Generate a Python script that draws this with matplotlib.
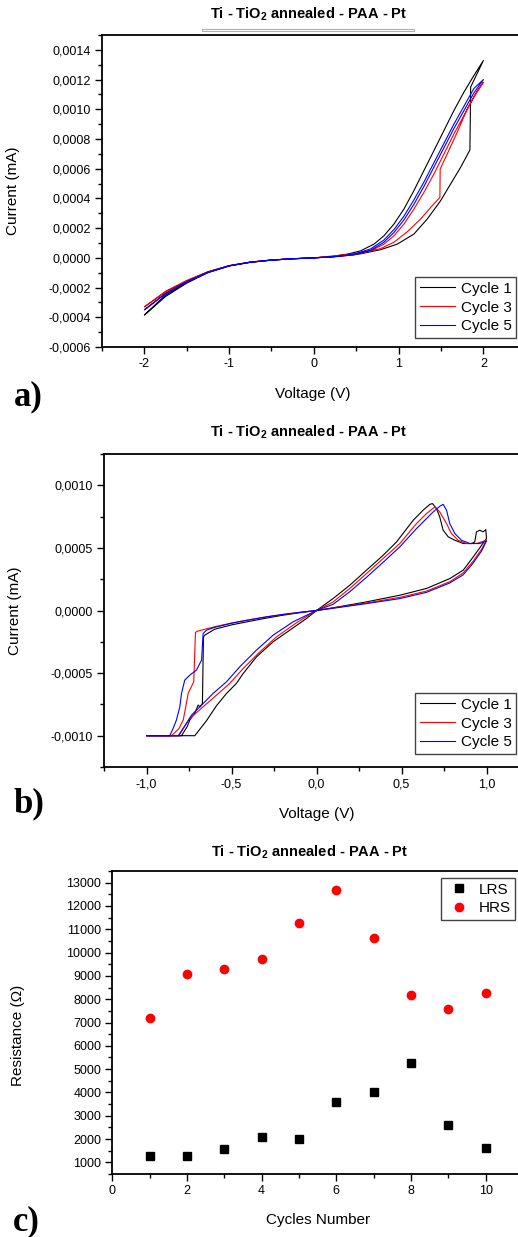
import matplotlib

matplotlib.use("Agg")
import matplotlib.pyplot as plt
from matplotlib.patches import Rectangle
from matplotlib.ticker import FuncFormatter, MultipleLocator

plt.rcParams["font.family"] = ["Liberation Sans", "DejaVu Sans"]
plt.rcParams["mathtext.default"] = "regular"
plt.rcParams["axes.unicode_minus"] = False

W, H = 518, 1237
TITLE = "Ti - TiO$_2$ annealed - PAA - Pt"
CYCLES = ["Cycle 1", "Cycle 3", "Cycle 5"]
COLORS = ["black", "red", "blue"]

# panel a: I-V loops, current in units of 1e-4 mA
va_c1 = [0, -0.25, -0.5, -0.75, -1.0, -1.25, -1.5, -1.75, -2.0,
         -1.75, -1.5, -1.25, -1.0, -0.75, -0.5, -0.25, 0,
         0.315, 0.551, 0.787, 0.983, 1.18, 1.337, 1.495, 1.613, 1.731, 1.841, 1.85, 2.0,
         1.888, 1.77, 1.652, 1.534, 1.416, 1.298, 1.18, 1.062, 0.944, 0.826, 0.708,
         0.551, 0.393, 0.2, 0]
ia_c1 = [0, -0.06, -0.15, -0.3, -0.55, -1.0, -1.7, -2.6, -3.85,
         -2.5, -1.62, -0.96, -0.53, -0.29, -0.15, -0.06, 0,
         0.13, 0.27, 0.55, 0.92, 1.6, 2.61, 3.84, 4.97, 6.09, 7.26, 11.5, 13.28,
         12.27, 11.15, 9.91, 8.56, 7.21, 5.87, 4.52, 3.28, 2.27, 1.48, 0.92,
         0.47, 0.25, 0.08, 0]
va_c3 = [0, -0.25, -0.5, -0.75, -1.0, -1.25, -1.5, -1.75, -2.0,
         -1.75, -1.5, -1.25, -1.0, -0.75, -0.5, -0.25, 0,
         0.315, 0.551, 0.787, 0.944, 1.101, 1.259, 1.377, 1.487, 1.49, 1.573, 1.691,
         1.809, 1.927, 2.0,
         1.888, 1.77, 1.652, 1.534, 1.416, 1.298, 1.18, 1.062, 0.944, 0.826, 0.669,
         0.472, 0.236, 0]
ia_c3 = [0, -0.06, -0.15, -0.29, -0.53, -0.95, -1.55, -2.3, -3.3,
         -2.25, -1.52, -0.93, -0.52, -0.28, -0.14, -0.06, 0,
         0.18, 0.33, 0.62, 1.05, 1.75, 2.61, 3.39, 4.07, 5.98, 6.99, 8.45,
         10.02, 11.26, 11.82,
         10.81, 9.57, 8.34, 6.99, 5.64, 4.4, 3.28, 2.27, 1.48, 0.92, 0.47,
         0.2, 0.07, 0]
va_c5 = [0, -0.25, -0.5, -0.75, -1.0, -1.25, -1.5, -1.75, -2.0,
         -1.75, -1.5, -1.25, -1.0, -0.75, -0.5, -0.25, 0,
         0.236, 0.472, 0.669, 0.826, 0.944, 1.062, 1.18, 1.298, 1.416, 1.534, 1.652,
         1.77, 1.888, 2.0,
         1.888, 1.77, 1.652, 1.534, 1.416, 1.298, 1.18, 1.062, 0.944, 0.826, 0.669,
         0.472, 0.236, 0]
ia_c5 = [0, -0.06, -0.15, -0.3, -0.54, -0.98, -1.62, -2.42, -3.5,
         -2.38, -1.6, -0.97, -0.53, -0.29, -0.15, -0.06, 0,
         0.07, 0.2, 0.5, 1.05, 1.7, 2.55, 3.6, 4.8, 6.1, 7.4, 8.7,
         9.9, 11.1, 12.0,
         11.4, 10.2, 9.0, 7.7, 6.4, 5.1, 3.9, 2.8, 1.9, 1.2, 0.6,
         0.25, 0.08, 0]

# panel b: I-V loops, current in units of 1e-4 mA
vb_c1 = [0, 0.098, 0.196, 0.294, 0.392, 0.471, 0.569, 0.627, 0.667, 0.682, 0.706,
         0.725, 0.745, 0.775, 0.814, 0.863, 0.912, 0.931, 0.941, 0.961, 0.98, 0.996,
         1.0, 0.971, 0.922, 0.863, 0.784, 0.647, 0.49, 0.294, 0.098, 0,
         -0.1, -0.2, -0.3, -0.4, -0.5, -0.6, -0.657, -0.665, -0.671, -0.685, -0.696,
         -0.716, -0.745, -0.761, -0.794, -1.0, -0.716,
         -0.647, -0.588, -0.529, -0.471, -0.431, -0.353, -0.255, -0.157, -0.059, 0]
ib_c1 = [0, 0.96, 2.02, 3.22, 4.41, 5.48, 7.21, 8.01, 8.48, 8.54, 8.14,
         7.47, 6.41, 5.88, 5.61, 5.35, 5.35, 5.48, 6.28, 6.41, 6.28, 6.46,
         5.74, 5.21, 4.28, 3.22, 2.55, 1.76, 1.22, 0.69, 0.22, 0,
         -0.18, -0.38, -0.62, -0.88, -1.15, -1.5, -1.97, -2.1, -7.42, -7.7, -7.55,
         -8.2, -8.75, -9.28, -10, -10, -10,
         -8.8, -7.6, -6.62, -5.82, -5.03, -3.7, -2.5, -1.57, -0.64, 0]
vb_c3 = [0, 0.098, 0.196, 0.294, 0.392, 0.49, 0.588, 0.647, 0.696, 0.725, 0.765,
         0.794, 0.833, 0.882, 0.941, 1.0,
         0.971, 0.922, 0.863, 0.784, 0.647, 0.49, 0.294, 0.098, 0,
         -0.1, -0.2, -0.3, -0.4, -0.5, -0.6, -0.7, -0.712, -0.722, -0.755, -0.769,
         -0.784, -0.808, -0.853, -1.0, -0.814,
         -0.745, -0.667, -0.588, -0.51, -0.431, -0.333, -0.235, -0.118, 0]
ib_c3 = [0, 0.69, 1.76, 2.95, 4.15, 5.35, 6.94, 7.74, 8.27, 7.87, 6.94,
         6.14, 5.61, 5.35, 5.35, 5.61,
         4.9, 3.95, 3.0, 2.3, 1.55, 1.05, 0.6, 0.2, 0,
         -0.15, -0.32, -0.52, -0.75, -1.0, -1.3, -1.65, -1.75, -5.69, -6.62, -7.69,
         -8.75, -9.41, -10, -10, -10,
         -8.62, -7.69, -6.76, -5.82, -4.63, -3.3, -2.1, -0.98, 0]
vb_c5 = [0, 0.098, 0.196, 0.294, 0.392, 0.49, 0.588, 0.686, 0.725, 0.745, 0.765,
         0.784, 0.814, 0.853, 0.902, 0.961, 1.0,
         0.971, 0.922, 0.863, 0.784, 0.647, 0.49, 0.294, 0.098, 0,
         -0.1, -0.2, -0.3, -0.4, -0.5, -0.6, -0.647, -0.667, -0.676, -0.706, -0.745,
         -0.775, -0.794, -0.804, -0.824, -0.843, -0.863, -1.0, -0.81,
         -0.735, -0.686, -0.608, -0.529, -0.451, -0.353, -0.255, -0.137, 0]
ib_c5 = [0, 0.5, 1.5, 2.65, 3.85, 5.08, 6.54, 7.87, 8.32, 8.48, 8.01,
         6.94, 6.14, 5.61, 5.35, 5.35, 5.56,
         4.75, 3.8, 2.85, 2.2, 1.45, 0.95, 0.55, 0.18, 0,
         -0.15, -0.32, -0.52, -0.76, -1.02, -1.35, -1.57, -1.84, -3.96, -4.76, -5.16,
         -5.56, -6.62, -7.69, -8.75, -9.41, -10, -10, -10,
         -8.35, -7.69, -6.62, -5.69, -4.49, -3.16, -1.97, -0.9, 0]

# panel c: resistance per cycle (Ohm)
cycles = [1, 2, 3, 4, 5, 6, 7, 8, 9, 10]
lrs = [1290, 1270, 1570, 2090, 2010, 3570, 4030, 5270, 2610, 1600]
hrs = [7200, 9090, 9290, 9740, 11270, 12700, 10630, 8160, 7590, 8270]


def fx(px):
    return px / W


def fy(py):
    return 1 - py / H


def rect(left, top, right, bottom):
    return [fx(left), fy(bottom), (right - left) / W, (bottom - top) / H]


def comma(decimals):
    def fmt(v, pos):
        s = f"{v:.{decimals}f}".replace(".", ",")
        if s.startswith("-") and float(s[1:].replace(",", ".")) == 0:
            s = s[1:]
        return s
    return FuncFormatter(fmt)


def style_axes(ax):
    for side in ("left", "bottom", "top", "right"):
        ax.spines[side].set_linewidth(1.3)
    ax.tick_params(which="major", direction="out", length=5, width=1, labelsize=9,
                   top=False, right=False, pad=3)
    ax.tick_params(which="minor", direction="out", length=3, width=1,
                   top=False, right=False)


def legend(ax, x, y, loc, **kw):
    leg = ax.legend(loc=loc, bbox_to_anchor=(fx(x), fy(y)), bbox_transform=fig.transFigure,
                    fancybox=False, edgecolor="#444444", framealpha=1, fontsize=11,
                    borderpad=0.3, labelspacing=0.32, handletextpad=0.35,
                    borderaxespad=0, **kw)
    leg.get_frame().set_linewidth(1.0)


fig = plt.figure(figsize=(W / 100, H / 100), dpi=100)

# ---- panel a
ax = fig.add_axes(rect(102, 35, 525.75, 347))
for v, i, c, lab in zip([va_c1, va_c3, va_c5], [ia_c1, ia_c3, ia_c5], COLORS, CYCLES):
    ax.plot(v, [x * 1e-4 for x in i], color=c, lw=0.8, label=lab)
ax.set_xlim(-2.5, 2.5)
ax.set_ylim(-0.0006, 0.0015)
ax.xaxis.set_major_locator(MultipleLocator(1))
ax.xaxis.set_minor_locator(MultipleLocator(0.5))
ax.yaxis.set_major_locator(MultipleLocator(0.0002))
ax.yaxis.set_minor_locator(MultipleLocator(0.0001))
ax.xaxis.set_major_formatter(comma(0))
ax.yaxis.set_major_formatter(comma(4))
style_axes(ax)
ax.set_xlabel("Voltage (V)", fontsize=11)
ax.set_ylabel("Current (mA)", fontsize=11)
ax.xaxis.set_label_coords(0.498, -0.128)
ax.yaxis.set_label_coords(-0.194, 0.5)
legend(ax, 516, 338, "lower right", handlelength=2.3)
fig.text(fx(309), fy(14), TITLE, ha="center", va="center", fontsize=10.5, fontweight="bold")
fig.patches.append(Rectangle((fx(202), fy(31)), fx(212), 2.5 / H, transform=fig.transFigure,
                             facecolor="white", edgecolor="#b0b0b0", lw=0.8))
fig.text(fx(14), fy(405), "a)", fontsize=25, fontweight="bold",
         family=["Liberation Serif", "DejaVu Serif"])

# ---- panel b
ax = fig.add_axes(rect(104, 454, 529, 767))
for v, i, c, lab in zip([vb_c1, vb_c3, vb_c5], [ib_c1, ib_c3, ib_c5], COLORS, CYCLES):
    ax.plot(v, [x * 1e-4 for x in i], color=c, lw=0.8, label=lab)
ax.set_xlim(-1.25, 1.25)
ax.set_ylim(-0.00125, 0.00125)
ax.xaxis.set_major_locator(MultipleLocator(0.5))
ax.xaxis.set_minor_locator(MultipleLocator(0.25))
ax.yaxis.set_major_locator(MultipleLocator(0.0005))
ax.yaxis.set_minor_locator(MultipleLocator(0.00025))
ax.xaxis.set_major_formatter(comma(1))
ax.yaxis.set_major_formatter(comma(4))
style_axes(ax)
ax.set_xlabel("Voltage (V)", fontsize=11)
ax.set_ylabel("Current (mA)", fontsize=11)
ax.xaxis.set_label_coords(0.5, -0.128)
ax.yaxis.set_label_coords(-0.194, 0.5)
legend(ax, 516, 754, "lower right", handlelength=2.3)
fig.text(fx(309), fy(432), "Ti - TiO$_2$ annealed - PAA - Pt", ha="center", va="center",
         fontsize=10.5, fontweight="bold")
fig.text(fx(14), fy(812), "b)", fontsize=25, fontweight="bold",
         family=["Liberation Serif", "DejaVu Serif"])

# ---- panel c
ax = fig.add_axes(rect(112.3, 871, 523, 1174))
ax.plot(cycles, lrs, "s", color="black", ms=5.5, label="LRS")
ax.plot(cycles, hrs, "o", color="red", ms=6, label="HRS")
ax.set_xlim(0, 11)
ax.set_ylim(500, 13500)
ax.xaxis.set_major_locator(MultipleLocator(2))
ax.xaxis.set_minor_locator(MultipleLocator(1))
ax.yaxis.set_major_locator(MultipleLocator(1000))
ax.yaxis.set_minor_locator(MultipleLocator(500))
style_axes(ax)
ax.set_xlabel("Cycles Number", fontsize=11)
ax.set_ylabel("Resistance (Ω)", fontsize=11)
ax.xaxis.set_label_coords(0.5, -0.129)
ax.yaxis.set_label_coords(-0.213, 0.459)
legend(ax, 515, 878, "upper right", handlelength=1.8, numpoints=1)
fig.text(fx(310), fy(852), TITLE, ha="center", va="center", fontsize=10.5, fontweight="bold")
fig.text(fx(13), fy(1230), "c)", fontsize=25, fontweight="bold",
         family=["Liberation Serif", "DejaVu Serif"])

fig.savefig("out.png", dpi=100)
plt.close(fig)
